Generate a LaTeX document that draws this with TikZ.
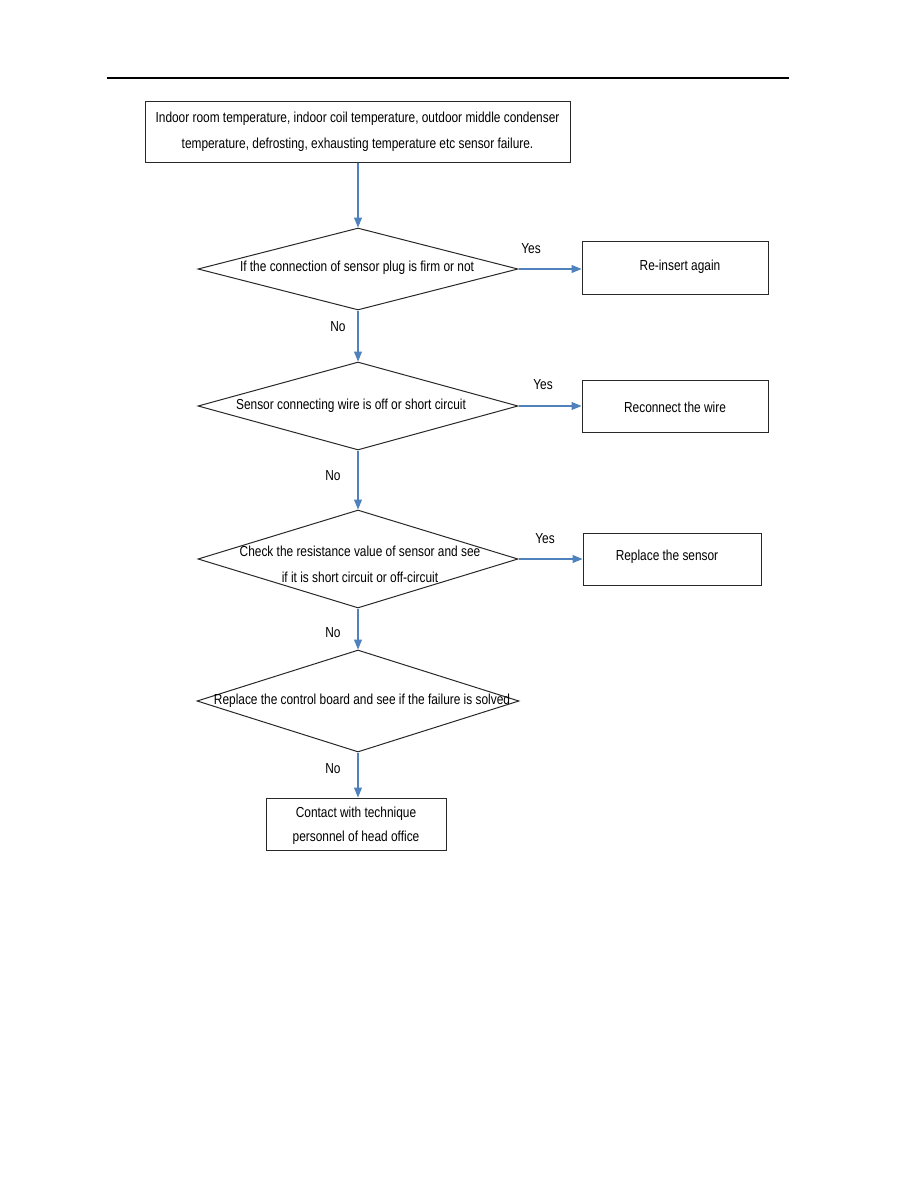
\documentclass[tikz,border=0pt]{standalone}
\usepackage{fontspec}
\setmainfont{Liberation Sans}[FakeStretch=0.82]
\usetikzlibrary{shapes.geometric,arrows.meta}
\definecolor{arrowblue}{RGB}{79,129,189}
\definecolor{boxline}{RGB}{40,40,40}
\tikzset{
  txt/.style={font=\fontsize{14.5}{26}\selectfont, align=center, inner sep=0pt},
  procbox/.style={draw=boxline, line width=1pt, rectangle, inner sep=0pt},
  decision/.style={draw=boxline, line width=1pt, diamond, inner sep=0pt, shape aspect=3},
  flow/.style={draw=arrowblue, line width=1.1pt, -{Triangle[length=10pt,width=8pt]}},
  lbl/.style={font=\fontsize{14.5}{16}\selectfont, inner sep=0pt}
}
\begin{document}
\begin{tikzpicture}[x=1pt,y=-1pt]
\useasboundingbox (0,0) rectangle (918,1188);
\fill[white] (0,0) rectangle (918,1188);
% header rule
\draw[line width=1.4pt] (107,78) coordinate (hl) -- (789,78) coordinate (hr);

% top box
\node[procbox, minimum width=425pt, minimum height=60pt] (top) at (357.5,132) {};
\node[txt] (toptxt) at (357.5,132) {Indoor room temperature, indoor coil temperature, outdoor middle condenser\\temperature, defrosting, exhausting temperature etc sensor failure.};

% decisions
\node[decision, minimum width=320pt, minimum height=82pt] (d1) at (358,269) {};
\node[txt] (d1t) at (357,268) {If the connection of sensor plug is firm or not};
\node[decision, minimum width=320pt, minimum height=88pt] (d2) at (358,406) {};
\node[txt] (d2t) at (351,406) {Sensor connecting wire is off or short circuit};
\node[decision, minimum width=320pt, minimum height=98pt] (d3) at (358,559) {};
\node[txt] (d3t) at (360,564) {Check the resistance value of sensor and see\\if it is short circuit or off-circuit};
\node[decision, minimum width=322pt, minimum height=102pt] (d4) at (358,701) {};
\node[txt] (d4t) at (362,701) {Replace the control board and see if the failure is solved};

% right boxes
\node[procbox, minimum width=186pt, minimum height=53pt] (r1) at (675,267.5) {};
\node[txt] (r1t) at (680,267) {Re-insert again};
\node[procbox, minimum width=186pt, minimum height=52pt] (r2) at (675,406) {};
\node[txt] (r2t) at (675,407) {Reconnect the wire};
\node[procbox, minimum width=178pt, minimum height=52pt] (r3) at (672,559) {};
\node[txt] (r3t) at (667,557) {Replace the sensor};

% final box
\node[procbox, minimum width=180pt, minimum height=52pt] (fin) at (356,824) {};
\node[txt, font=\fontsize{14.5}{24}\selectfont] (fint) at (356,826) {Contact with technique\\personnel of head office};

% connectors
\draw[flow] (top.south -| d1.north) -- (d1.north);
\draw[flow] (d1.south) -- (d2.north);
\draw[flow] (d2.south) -- (d3.north);
\draw[flow] (d3.south) -- (d4.north);
\draw[flow] (d4.south) -- (fin.north -| d4.south);
\draw[flow] (d1.east) -- (r1.west |- d1.east);
\draw[flow] (d2.east) -- (r2.west |- d2.east);
\draw[flow] (d3.east) -- (r3.west |- d3.east);

% labels
\node[lbl] (y1) at (531,249) {Yes};
\node[lbl] (y2) at (543,385) {Yes};
\node[lbl] (y3) at (545,539) {Yes};
\node[lbl] (n1) at (338,327) {No};
\node[lbl] (n2) at (333,476) {No};
\node[lbl] (n3) at (333,633) {No};
\node[lbl] (n4) at (333,769) {No};
\end{tikzpicture}
\end{document}
